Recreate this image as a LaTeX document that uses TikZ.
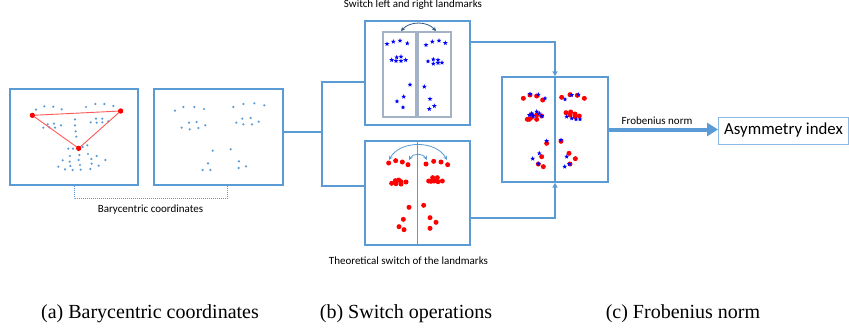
\documentclass[tikz,border=0pt]{standalone}
\usepackage{fontspec}
\setmainfont{Liberation Serif}
\newfontfamily\carlitofont{Carlito}
\newfontfamily\timesfont{Liberation Serif}
\usetikzlibrary{shapes.geometric,arrows.meta,calc}
\definecolor{boxblue}{HTML}{5B9BD5}
\definecolor{panelgray}{HTML}{A3B2C7}
\definecolor{darkarc}{HTML}{2E5A87}
\definecolor{redline}{HTML}{FF5A5A}
\tikzset{
  box/.style={draw=boxblue, line width=1.4pt, fill=white, inner sep=0pt},
  panel/.style={draw=panelgray, line width=1.1pt, inner sep=0pt},
  conn/.style={draw=boxblue, line width=1.4pt},
  dotline/.style={draw=boxblue, line width=1pt, densely dotted},
  sdot/.style={circle, fill=boxblue, inner sep=0pt, minimum size=2.4pt},
  rdot/.style={circle, fill=red, inner sep=0pt, minimum size=5pt},
  bstar/.style={star, star points=5, star point ratio=2.4, fill=blue, inner sep=0pt, minimum size=5pt},
  lbl/.style={font=\carlitofont\fontsize{11}{13}\selectfont, inner sep=0pt},
  captext/.style={font=\timesfont\fontsize{20}{22}\selectfont, inner sep=0pt},
  arcarrow/.style={line width=0.8pt, {Stealth[length=4pt,width=4pt]}-{Stealth[length=4pt,width=4pt]}}
}
\begin{document}
\begin{tikzpicture}[x=1pt,y=-1pt]
\useasboundingbox (0,0) rectangle (849,332);
% ---------- (a) ----------
\node[box, minimum width=128pt, minimum height=96pt] (A1) at (74,137) {};
\node[box, minimum width=129pt, minimum height=96pt] (A2) at (218.5,137) {};
\begin{scope}[shift={(0,80)}, scale=1/3]
  \foreach \p in {(108,89),(133,79),(160,80),(185,88),(258,81),(286,72),(313,72),(340,78),
    (143,133),(162,131),(183,136),(130,143),(148,142),(165,143),
    (272,127),(290,128),(307,127),(325,124),(288,116),(307,116),
    (225,118),(225,136),(227,154),(229,170),
    (205,206),(219,206),(248,201),(262,196),(210,228),(238,225),(264,222),(290,228),
    (188,241),(209,245),(236,240),(274,237),(316,240),(211,258),(240,255),(275,251),(296,257),
    (175,260),(195,268),(218,270),(242,269),(271,267)}
    \node[sdot] at \p {};
  \node[rdot] (r1) at (97,106) {};
  \node[rdot] (r2) at (362,93) {};
  \node[rdot] (r3) at (236,205) {};
  \foreach \p in {(525,92),(550,81),(583,81),(612,87),(567,128),(590,126),(616,136),(545,143),(569,148),(595,144),
    (700,81),(730,72),(763,70),(793,76),(727,116),(752,114),(709,128),(730,133),(756,133),(776,125),
    (638,212),(692,208),(624,250),(717,244),(608,270),(631,270),(716,264),(738,259)}
    \node[sdot] at \p {};
\end{scope}
\draw[redline, line width=0.9pt] (r1.center) -- (r2.center) -- (r3.center) -- cycle;
\node[rdot] at (r1) {};\node[rdot] at (r2) {};\node[rdot] at (r3) {};
\draw[dotline] (A1.south) -- ++(0,13) -| ([xshift=8.5pt]A2.south);
\node[lbl] (bary) at (150.5,210) {Barycentric coordinates};
% ---------- (b) ----------
\node[box, minimum width=105pt, minimum height=104pt] (B1) at (417.5,73) {};
\node[panel, minimum width=33pt, minimum height=85pt] (P1) at (399.5,74.5) {};
\node[panel, minimum width=33pt, minimum height=85pt] (P2) at (434.5,74.5) {};
\node[box, minimum width=105pt, minimum height=104pt] (B2) at (417.5,193) {};
\draw[conn] (B2.north) -- (B2.south);
\node[lbl] (t1) at (413,5) {Switch left and right landmarks};
\node[lbl] (t2) at (408.5,261) {Theoretical switch of the landmarks};
\begin{scope}[shift={(290,0)}, scale=1/3]
  \foreach \p in {(291,132),(310,125),(330,122),(352,130),(305,180),(320,172),(333,170),(318,183),(333,183),(347,180),
    (360,254),(341,290),(321,304),(339,322),
    (408,135),(427,125),(447,122),(466,129),(414,184),(430,178),(444,180),(430,191),(444,189),(456,188),
    (403,260),(420,297),(433,318),(418,327)}
    \node[bstar] at \p {};
\end{scope}
\begin{scope}[shift={(290,130)}, scale=1/3]
  \foreach \p in {(296,99),(317,92),(337,96),(354,104),(305,160),(316,152),(326,150),(333,155),(348,156),(318,161),(333,162),
    (357,232),(340,268),(327,290),(342,299),
    (408,102),(431,94),(453,96),(473,104),(416,153),(428,143),(442,143),(432,153),(444,155),(457,153),(423,154),
    (401,226),(420,263),(438,277),(420,295)}
    \node[rdot] at \p {};
\end{scope}
\coordinate (a1) at (401,31); \coordinate (a2) at (436,31);
\draw[arcarrow, darkarc] (a1) .. controls (410,21) and (427,21) .. (a2);
\coordinate (a3) at (389,160); \coordinate (a4) at (447,160);
\draw[arcarrow, boxblue] (a3) .. controls (400,140) and (436,140) .. (a4);
\coordinate (a5) at (409,160); \coordinate (a6) at (427,160);
\draw[arcarrow, boxblue] (a5) .. controls (413,153) and (423,153) .. (a6);
% ---------- (c) ----------
\node[box, minimum width=106pt, minimum height=105pt] (C) at (555,129.5) {};
\draw[conn] (C.north) -- (C.south);
\begin{scope}[shift={(490,60)}, scale=1/3]
  \foreach \p in {(100,115),(120,105),(140,108),(158,120),(215,112),(240,104),(262,106),(283,115),
    (112,178),(125,172),(140,178),(155,168),(125,165),(140,165),(118,178),
    (228,158),(242,156),(255,162),(268,168),(240,165),(255,170),
    (170,250),(213,244),(155,290),(145,312),(160,320),(237,280),(256,296),(240,312)}
    \node[rdot] at \p {};
  \foreach \p in {(120,102),(145,104),(165,115),(225,118),(245,105),(265,104),
    (125,160),(140,155),(148,160),(130,168),(155,168),(118,165),
    (230,170),(245,175),(258,178),(270,178),
    (170,243),(213,240),(128,296),(148,280),(145,312),(230,290),(224,320),(238,312)}
    \node[bstar] at \p {};
\end{scope}
\node[draw=boxblue!70, line width=1pt, minimum width=130pt, minimum height=27pt, inner sep=0pt,
      font=\carlitofont\fontsize{16.8}{18}\selectfont] (AI) at (783.5,130.5) {Asymmetry index};
\draw[draw=boxblue, line width=4pt, -{Triangle[length=11pt,width=13pt]}] (C.east) -- (C.east -| AI.west);
\node[lbl] (fn) at (657,121) {Frobenius norm};
% ---------- connectors ----------
\coordinate (br) at (322,132);
\draw[conn] ([yshift=5pt]A2.east) -- (br);
\draw[conn] ([yshift=-9pt]B1.west) -| (br) |- ([yshift=7pt]B2.west);
\draw[conn, -{Triangle[length=5pt,width=5pt]}] ([yshift=31pt]B1.east) -| (C.north);
\draw[conn, -{Triangle[length=5pt,width=5pt]}] ([yshift=-25pt]B2.east) -| (C.south);
% ---------- captions ----------
\node[captext] (ca) at (150,314) {(a) Barycentric coordinates};
\node[captext] (cb) at (406,314) {(b) Switch operations};
\node[captext] (cc) at (683,314) {(c) Frobenius norm};
\end{tikzpicture}
\end{document}
